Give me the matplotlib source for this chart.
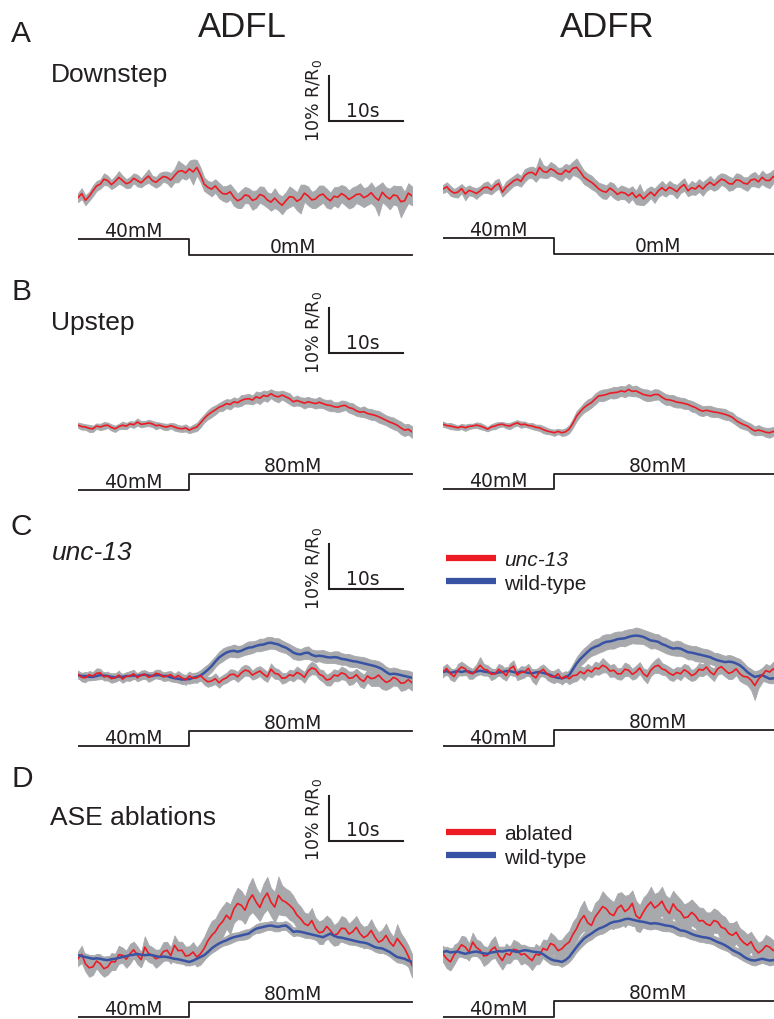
import matplotlib.pyplot as plt
import numpy as np
from matplotlib.lines import Line2D

plt.rcParams['font.family'] = ['Liberation Sans', 'DejaVu Sans']
plt.rcParams['mathtext.default'] = 'regular'

RED = '#ed1c24'
BLUE = '#3953a4'
GRAY = '#a7a9ac'
INK = '#231f20'

# sampling of the traces (s) and time of the salt step (s)
DT = 0.5
STEP_T = 15.0

# ---- A: downstep 40 -> 0 mM (% R/R0, mean and sem) ----
adfl_down = [0.3, 1.2, -0.3, 0.6, 1.8, 2.9, 3.3, 4.4, 4.1, 3.2,
             3.9, 4.8, 4.1, 3.4, 3.7, 4.6, 4.1, 3.6, 4.4, 5.1,
             4.1, 3.7, 4.4, 5.0, 4.8, 4.2, 5.2, 6.1, 6.3, 5.8,
             6.7, 6.0, 7.0, 5.4, 3.3, 2.6, 2.2, 2.9, 1.9, 1.2,
             1.1, 1.6, 0.4, -0.4, 0.0, 0.9, 0.7, -0.3, 0.0, 1.0,
             0.7, -0.2, -0.7, 0.2, -0.7, -1.4, -0.4, 0.5, 0.4, -0.5,
             0.0, 1.3, 0.7, -0.2, 0.0, 0.8, 1.1, 0.2, -0.4, 0.6,
             0.4, 1.2, 0.7, -0.1, 0.4, 1.0, 1.1, 0.3, 0.7, 1.4,
             0.4, -0.3, 1.5, 0.6, 0.0, 0.9, 0.7, -0.6, -0.4, 1.3,
             0.7]
adfl_down_sem = [1.0, 1.2, 1.1, 1.0, 1.2, 1.1, 1.0, 1.3, 1.1, 1.0,
                 1.2, 1.4, 1.1, 1.0, 1.2, 1.1, 1.3, 1.0, 1.2, 1.5,
                 1.1, 1.2, 1.4, 1.1, 1.3, 1.6, 1.5, 2.4, 1.6, 1.5,
                 1.8, 2.8, 1.7, 1.6, 1.5, 1.4, 1.6, 1.5, 1.7, 1.6,
                 1.8, 1.7, 1.9, 1.6, 2.0, 1.8, 1.7, 2.1, 1.9, 1.8,
                 2.0, 1.7, 1.9, 2.2, 1.8, 2.0, 1.9, 2.3, 1.8, 2.0,
                 3.2, 1.9, 2.1, 1.8, 2.0, 2.2, 1.9, 2.1, 1.8, 2.0,
                 2.3, 1.9, 2.1, 2.0, 2.2, 1.9, 2.4, 2.1, 2.0, 2.3,
                 2.1, 3.4, 2.2, 2.0, 2.3, 2.1, 2.2, 3.5, 2.0, 2.2,
                 2.1]
adfr_down = [0.0, 0.5, -0.4, -0.9, -0.7, 0.1, -1.1, -0.3, -0.6, -1.0,
             -0.4, 0.3, 0.4, -0.2, 0.7, 1.2, -0.7, 0.4, 1.1, 1.8,
             2.2, 1.7, 3.0, 3.6, 3.7, 3.1, 4.8, 3.9, 3.7, 4.5,
             4.1, 3.4, 3.3, 4.2, 3.7, 4.6, 4.8, 3.8, 2.6, 2.0,
             1.5, 0.8, 0.0, -0.5, -0.7, 0.2, -0.4, -1.2, -0.7, -0.9,
             -1.5, -0.8, -1.9, -1.2, -2.2, -1.4, -0.7, -1.5, -0.4, 0.3,
             -0.4, 0.4, 0.0, -0.6, 0.4, 1.0, -0.4, 0.3, 0.0, 0.8,
             0.0, 0.9, 1.5, 0.8, 1.5, 2.2, 1.9, 1.2, 1.1, 2.0,
             1.9, 1.3, 1.1, 2.0, 2.2, 1.6, 2.6, 1.9, 1.9, 2.8,
             2.2]
adfr_down_sem = [0.9, 1.0, 1.1, 0.9, 1.2, 1.0, 1.4, 1.1, 1.0, 1.2,
                 1.0, 1.1, 1.3, 1.0, 1.2, 1.1, 1.0, 1.3, 1.2, 1.1,
                 1.3, 1.2, 1.4, 1.2, 1.3, 1.5, 2.2, 1.4, 1.3, 1.5,
                 1.4, 1.3, 1.5, 1.4, 1.6, 1.5, 2.0, 1.6, 1.5, 1.4,
                 1.5, 1.3, 1.4, 1.6, 1.5, 1.4, 1.6, 1.3, 1.5, 1.4,
                 1.6, 1.4, 1.5, 2.3, 1.4, 1.5, 1.3, 1.6, 1.4, 1.5,
                 1.3, 1.4, 1.2, 1.5, 1.3, 1.4, 1.2, 1.5, 1.3, 1.4,
                 1.5, 1.3, 1.4, 1.2, 1.5, 1.3, 1.4, 1.6, 1.3, 1.5,
                 1.4, 1.3, 1.5, 1.4, 1.6, 1.3, 1.5, 1.4, 1.7, 1.5,
                 1.4]

# ---- B: upstep 40 -> 80 mM ----
adfl_up = [0.4, 0.1, 0.0, -0.3, -0.4, 0.2, 0.0, 0.3, 0.4, -0.1,
           -0.4, 0.1, 0.4, 0.2, 0.7, 0.5, 1.1, 0.6, 0.7, 0.9,
           0.7, 0.3, 0.4, 0.1, 0.0, 0.3, 0.0, -0.3, -0.4, -0.2,
           -0.7, -0.3, 0.0, 0.9, 1.9, 2.7, 3.3, 3.8, 4.4, 4.7,
           5.2, 5.0, 5.6, 5.4, 5.9, 6.2, 6.3, 6.0, 6.7, 6.4,
           7.0, 6.8, 7.4, 6.9, 6.7, 7.1, 6.7, 6.3, 5.6, 5.9,
           5.6, 5.3, 5.6, 5.4, 5.2, 5.5, 5.2, 4.9, 4.8, 4.5,
           4.4, 4.7, 4.8, 4.3, 4.1, 3.6, 3.3, 3.4, 3.0, 2.8,
           2.6, 2.3, 1.9, 1.5, 1.1, 0.8, 0.4, -0.2, -0.7, -0.5,
           -1.1]
adfl_up_sem = [0.6, 0.7, 0.6, 0.8, 0.7, 0.6, 0.7, 0.8, 0.6, 0.7,
               0.7, 0.6, 0.8, 0.7, 0.6, 0.7, 0.8, 0.7, 0.6, 0.7,
               0.7, 0.8, 0.6, 0.7, 0.7, 0.6, 0.8, 0.7, 0.7, 0.8,
               0.7, 0.8, 0.9, 1.0, 0.9, 1.0, 1.1, 1.0, 0.9, 1.1,
               1.0, 1.1, 1.0, 0.9, 1.2, 1.0, 1.1, 1.0, 1.2, 1.3,
               1.1, 1.2, 1.0, 1.1, 1.2, 1.0, 1.1, 1.2, 1.0, 1.1,
               1.0, 1.2, 1.1, 1.0, 1.1, 1.2, 1.0, 1.1, 1.3, 1.0,
               1.1, 1.2, 1.0, 1.1, 1.2, 1.1, 1.0, 1.2, 1.1, 1.2,
               1.1, 1.3, 1.2, 1.1, 1.2, 1.3, 1.2, 1.4, 1.3, 1.2,
               1.3]
adfr_up = [0.4, 0.1, 0.0, -0.2, -0.4, -0.1, -0.4, -0.1, 0.0, 0.2,
           0.0, -0.3, -0.7, -0.2, 0.0, 0.3, 0.4, 0.1, 0.0, 0.4,
           0.7, 0.3, 0.4, 0.1, 0.0, -0.3, -0.4, -0.8, -1.1, -1.3,
           -1.5, -1.2, -1.5, -1.3, -0.7, 0.6, 2.2, 3.2, 4.1, 4.7,
           5.2, 6.0, 6.7, 6.8, 7.0, 7.3, 7.4, 7.5, 7.8, 7.6,
           8.1, 7.7, 7.8, 7.4, 7.0, 6.8, 6.7, 7.0, 7.0, 6.4,
           5.9, 5.8, 5.6, 5.3, 5.2, 5.0, 4.8, 4.4, 4.1, 3.6,
           3.3, 3.5, 3.3, 3.1, 3.0, 2.8, 2.6, 2.3, 1.9, 1.2,
           0.7, 0.3, 0.0, -0.6, -1.1, -0.9, -1.1, -1.4, -1.5, -1.2,
           -1.5]
adfr_up_sem = [0.6, 0.5, 0.7, 0.6, 0.5, 0.6, 0.7, 0.6, 0.5, 0.6,
               0.7, 0.6, 0.5, 0.6, 0.7, 0.6, 0.5, 0.6, 0.7, 0.6,
               0.6, 0.7, 0.6, 0.5, 0.7, 0.6, 0.7, 0.8, 0.7, 0.6,
               0.7, 0.6, 0.7, 0.8, 0.9, 1.0, 1.1, 1.0, 1.1, 1.2,
               1.1, 1.2, 1.1, 1.3, 1.2, 1.1, 1.3, 1.2, 1.1, 1.2,
               1.3, 1.1, 1.2, 1.1, 1.2, 1.3, 1.1, 1.2, 1.1, 1.2,
               1.2, 1.1, 1.3, 1.2, 1.1, 1.2, 1.0, 1.2, 1.1, 1.2,
               1.1, 1.0, 1.2, 1.1, 1.0, 1.1, 1.2, 1.0, 1.1, 1.0,
               1.1, 1.0, 0.9, 1.1, 1.0, 1.1, 0.9, 1.0, 1.1, 1.0,
               1.0]

# ---- C: unc-13 vs wild-type, upstep ----
adfl_unc13 = [0.4, -0.3, -0.4, 0.3, 0.0, 0.6, 0.7, -0.2, 0.0, -0.6,
              -0.4, 0.2, -0.7, -0.1, 0.0, 0.5, -0.4, 0.2, 0.4, -0.3,
              0.0, 0.6, 0.4, -0.2, 0.0, 0.3, -0.4, 0.1, -0.4, -0.9,
              0.0, -0.5, -0.4, 0.1, -0.7, -1.3, -1.1, -0.6, -1.5, -0.8,
              -0.4, 0.3, 0.4, -0.2, 0.7, 1.3, 1.1, 0.2, 0.7, 1.1,
              0.4, -0.2, 1.5, 0.6, 0.4, -0.5, -0.4, 0.3, 0.0, 0.8,
              0.4, -0.3, 1.1, 1.8, 1.5, 0.4, 0.0, -0.9, -0.7, 0.2,
              0.0, 0.7, 0.4, -0.5, -0.4, 0.3, -0.7, -1.2, 0.0, -0.6,
              -0.4, 0.2, -0.7, -1.4, -1.1, -0.3, -0.7, -1.6, -1.5, -0.8,
              -1.5]
adfl_unc13_sem = [0.8, 0.9, 1.0, 0.8, 0.9, 1.1, 0.9, 0.8, 1.0, 0.9,
                  0.9, 1.0, 0.8, 0.9, 1.1, 0.9, 0.8, 1.0, 0.9, 1.0,
                  0.9, 0.8, 1.0, 0.9, 1.0, 0.8, 0.9, 1.0, 0.9, 1.1,
                  1.0, 0.9, 1.1, 1.0, 1.2, 1.1, 1.0, 1.2, 1.1, 1.0,
                  1.1, 1.2, 1.0, 1.1, 1.3, 1.2, 1.1, 1.0, 1.2, 1.1,
                  1.2, 1.1, 1.3, 1.2, 1.1, 1.2, 1.0, 1.1, 1.2, 1.3,
                  1.1, 1.2, 1.3, 1.4, 1.2, 1.1, 1.3, 1.2, 1.4, 1.3,
                  1.2, 1.4, 1.3, 1.5, 1.4, 1.3, 1.6, 1.5, 1.4, 1.6,
                  1.8, 2.4, 2.2, 1.7, 1.6, 1.8, 1.5, 1.7, 1.6, 1.8,
                  1.7]
adfl_unc13_wt = [0.2, 0.0, 0.0, -0.2, -0.2, 0.0, 0.2, 0.1, 0.0, -0.2,
                 -0.3, -0.1, -0.2, 0.0, 0.0, 0.1, 0.0, 0.2, 0.3, 0.1,
                 0.0, 0.2, 0.2, 0.0, 0.0, -0.3, -0.5, -0.6, -0.8, -0.7,
                 -0.7, -0.4, -0.2, 0.1, 0.7, 1.4, 2.2, 3.2, 4.1, 4.7,
                 5.2, 5.5, 5.6, 5.4, 5.6, 6.0, 6.3, 6.4, 6.7, 6.9,
                 7.0, 7.3, 7.4, 7.2, 7.0, 6.6, 6.3, 5.8, 5.2, 4.9,
                 4.8, 5.1, 5.2, 4.7, 4.4, 4.5, 4.4, 4.2, 4.1, 4.2,
                 4.1, 3.8, 3.7, 3.5, 3.3, 3.2, 3.0, 2.8, 2.6, 2.4,
                 2.2, 1.9, 1.5, 0.9, 0.4, 0.5, 0.4, 0.2, 0.0, -0.2,
                 -0.4]
adfl_unc13_wt_sem = [0.8, 0.7, 0.9, 0.8, 0.7, 0.8, 0.9, 0.8, 0.7, 0.8,
                     0.9, 0.8, 0.7, 0.8, 0.9, 0.8, 0.7, 0.8, 0.9, 0.8,
                     0.8, 0.7, 0.9, 0.8, 0.8, 0.9, 0.8, 0.9, 1.0, 0.9,
                     1.0, 1.1, 1.0, 1.2, 1.3, 1.2, 1.3, 1.2, 1.3, 1.4,
                     1.3, 1.2, 1.4, 1.3, 1.2, 1.3, 1.4, 1.3, 1.2, 1.4,
                     1.3, 1.4, 1.3, 1.2, 1.4, 1.3, 1.2, 1.3, 1.4, 1.3,
                     1.2, 1.3, 1.4, 1.2, 1.3, 1.2, 1.4, 1.3, 1.2, 1.3,
                     1.4, 1.3, 1.2, 1.4, 1.3, 1.2, 1.3, 1.4, 1.3, 1.2,
                     1.3, 1.4, 1.3, 1.2, 1.3, 1.4, 1.3, 1.2, 1.3, 1.4,
                     1.3]
adfr_unc13 = [0.0, 0.8, -0.4, -1.0, 0.4, 1.1, 0.7, -0.2, -0.4, 0.5,
              1.5, 0.6, 0.4, -0.5, -0.4, 0.6, 0.0, -0.8, 0.7, 1.3,
              -0.7, -0.1, 0.0, 0.8, -0.7, -1.3, 0.0, 0.6, -0.4, -1.0,
              -1.1, -0.4, -1.5, -0.9, -1.5, -0.8, -0.7, 0.1, -0.4, 0.5,
              0.0, 0.9, 0.7, 1.5, 1.1, 0.2, 0.4, -0.4, -0.4, 0.6,
              0.4, -0.5, 0.0, 0.9, -0.4, -1.0, 0.4, 1.2, 1.5, 0.7,
              0.4, -0.3, -0.7, -0.1, -0.4, 0.5, 0.0, -0.8, -0.4, 0.6,
              0.4, 1.1, 0.0, -0.6, 0.7, 1.2, 0.4, -0.3, 0.0, 0.7,
              -0.4, -1.0, -1.1, -1.8, -3.0, -1.6, -0.7, 0.3, 0.0, 0.7,
              0.0]
adfr_unc13_sem = [1.2, 1.0, 1.3, 1.1, 1.4, 1.2, 1.0, 1.3, 1.1, 1.2,
                  1.8, 1.2, 1.1, 1.3, 1.0, 1.2, 1.4, 1.1, 1.2, 1.3,
                  1.1, 1.4, 1.2, 1.0, 1.3, 1.5, 1.2, 1.1, 1.3, 1.2,
                  1.4, 1.2, 1.3, 1.1, 1.2, 1.4, 1.3, 1.2, 1.4, 1.3,
                  1.2, 1.4, 1.3, 1.6, 1.2, 1.3, 1.4, 1.2, 1.3, 1.5,
                  1.3, 1.2, 1.4, 1.3, 1.2, 1.5, 1.3, 1.4, 1.7, 1.3,
                  1.2, 1.4, 1.3, 1.2, 1.4, 1.3, 1.5, 1.2, 1.3, 1.4,
                  1.3, 1.5, 1.2, 1.4, 1.3, 1.5, 1.4, 1.3, 1.5, 1.4,
                  1.6, 1.5, 1.8, 2.2, 3.2, 2.0, 1.6, 1.5, 1.4, 1.6,
                  1.5]
adfr_unc13_wt = [0.0, 0.2, -0.2, 0.0, 0.2, 0.0, 0.2, 0.1, -0.2, 0.1,
                 0.3, 0.1, 0.0, -0.2, -0.3, -0.1, 0.0, 0.2, 0.2, 0.0,
                 -0.2, 0.1, 0.0, -0.2, -0.3, -0.1, 0.0, -0.2, -0.4, -0.7,
                 -1.1, -1.3, -1.4, -1.2, -0.7, 0.6, 1.9, 2.9, 3.7, 4.5,
                 5.2, 5.6, 5.9, 6.4, 6.7, 6.8, 7.0, 7.3, 7.4, 7.5,
                 7.8, 8.0, 8.1, 8.0, 7.8, 7.4, 7.0, 6.9, 6.7, 6.2,
                 5.9, 5.5, 5.2, 5.3, 5.2, 4.8, 4.4, 4.3, 4.1, 3.9,
                 3.7, 3.5, 3.3, 2.9, 2.6, 2.4, 2.2, 2.3, 2.2, 1.9,
                 1.5, 0.8, 0.0, -0.6, -1.1, -0.9, -0.7, -1.1, -1.5, -1.4,
                 -1.5]
adfr_unc13_wt_sem = [0.8, 0.9, 0.8, 0.7, 0.9, 0.8, 0.9, 0.8, 0.7, 0.9,
                     0.8, 0.9, 0.8, 0.9, 0.8, 0.7, 0.8, 0.9, 0.8, 0.9,
                     0.8, 0.9, 0.8, 0.7, 0.9, 0.8, 0.9, 0.8, 0.9, 1.0,
                     0.9, 1.0, 1.1, 1.0, 1.1, 1.2, 1.4, 1.5, 1.6, 1.5,
                     1.6, 1.7, 1.6, 1.8, 1.7, 1.6, 1.8, 1.7, 1.6, 1.8,
                     1.7, 1.6, 1.8, 1.7, 1.6, 1.7, 1.8, 1.6, 1.7, 1.6,
                     1.7, 1.6, 1.5, 1.7, 1.6, 1.5, 1.6, 1.5, 1.7, 1.6,
                     1.5, 1.6, 1.5, 1.4, 1.6, 1.5, 1.4, 1.5, 1.4, 1.3,
                     1.4, 1.3, 1.2, 1.3, 1.2, 1.1, 1.2, 1.1, 1.0, 1.1,
                     1.0]

# ---- D: ASE ablated vs wild-type, upstep ----
adfl_abl = [-0.4, 0.6, -1.5, -2.4, -2.2, -0.9, -1.5, -2.6, -2.2, -1.0,
            -1.1, 0.5, 0.4, -0.5, 0.7, 1.6, 0.4, -0.6, 2.2, 0.8,
            0.4, -0.4, 0.0, 1.2, 1.5, 0.3, 2.6, 1.4, 1.5, 0.2,
            0.4, 1.1, 0.0, 0.7, 1.9, 3.6, 4.8, 5.6, 7.0, 7.9,
            9.3, 8.4, 10.7, 11.9, 11.5, 10.4, 12.6, 13.8, 12.2, 11.0,
            13.0, 14.2, 12.2, 11.1, 13.7, 12.6, 12.2, 11.5, 10.7, 9.3,
            8.5, 7.4, 7.0, 8.1, 6.3, 5.4, 5.6, 6.8, 5.9, 4.8,
            5.2, 6.4, 6.3, 5.1, 5.6, 6.6, 5.2, 4.3, 4.8, 5.9,
            4.4, 3.3, 3.7, 4.8, 3.3, 2.4, 4.1, 3.0, 1.9, 0.2,
            -1.9]
adfl_abl_sem = [1.6, 1.9, 1.7, 2.0, 1.8, 1.6, 2.1, 1.8, 1.7, 1.9,
                1.8, 2.0, 1.7, 1.9, 2.2, 1.8, 2.0, 1.7, 2.4, 1.9,
                1.8, 2.0, 1.7, 2.1, 1.9, 1.8, 2.2, 2.0, 1.9, 2.1,
                2.0, 2.2, 2.1, 2.4, 2.6, 2.8, 3.2, 2.9, 3.1, 3.4,
                3.0, 3.3, 3.1, 3.5, 3.2, 3.0, 3.4, 3.8, 3.2, 3.0,
                3.3, 3.6, 3.1, 3.4, 4.2, 3.3, 3.0, 3.2, 2.9, 2.8,
                2.7, 2.5, 2.6, 2.8, 2.4, 2.5, 2.7, 2.4, 2.6, 2.3,
                2.5, 2.7, 2.4, 2.3, 2.6, 2.5, 2.3, 2.4, 2.2, 2.5,
                2.3, 2.2, 2.4, 2.6, 2.3, 2.1, 3.2, 2.3, 2.2, 2.4,
                2.6]
adfl_abl_wt = [0.4, 0.2, 0.0, -0.2, -0.4, -0.3, -0.4, -0.6, -0.7, -0.5,
               -0.4, -0.2, 0.0, 0.2, 0.4, 0.5, 0.7, 0.5, 0.4, 0.5,
               0.4, 0.2, 0.0, 0.1, 0.0, -0.2, -0.4, -0.5, -0.7, -0.9,
               -1.1, -0.8, -0.4, 0.0, 0.4, 1.1, 1.9, 2.5, 3.0, 3.4,
               3.7, 4.1, 4.4, 4.6, 4.8, 5.0, 5.2, 5.8, 6.3, 6.5,
               6.7, 6.9, 7.0, 6.8, 6.7, 6.9, 7.0, 6.4, 5.6, 5.7,
               5.6, 5.4, 5.2, 5.0, 4.8, 4.6, 4.4, 4.8, 5.2, 4.7,
               4.4, 4.3, 4.1, 3.9, 3.7, 3.5, 3.3, 3.2, 3.0, 2.6,
               2.2, 2.0, 1.9, 1.5, 1.1, 0.5, 0.0, -0.2, -0.4, -0.8,
               -1.1]
adfl_abl_wt_sem = [0.8, 0.9, 0.8, 0.7, 0.8, 0.9, 0.8, 0.7, 0.9, 0.8,
                   0.8, 0.9, 0.8, 0.7, 0.8, 0.9, 0.8, 0.7, 0.8, 0.9,
                   0.8, 0.7, 0.8, 0.9, 0.8, 0.7, 0.8, 0.9, 0.8, 0.9,
                   0.8, 0.9, 0.8, 0.9, 1.0, 0.9, 1.0, 1.1, 1.0, 0.9,
                   1.0, 1.1, 1.0, 0.9, 1.0, 1.1, 1.0, 0.9, 1.0, 1.1,
                   1.0, 0.9, 1.0, 1.1, 1.0, 0.9, 1.0, 1.1, 1.0, 0.9,
                   1.0, 1.1, 1.0, 0.9, 1.0, 1.1, 1.0, 0.9, 1.0, 1.1,
                   1.0, 0.9, 1.0, 1.1, 1.0, 0.9, 1.0, 1.1, 1.0, 0.9,
                   1.0, 1.1, 1.0, 0.9, 1.0, 1.1, 1.2, 1.1, 1.2, 1.3,
                   1.2]
adfr_abl = [-0.4, -1.5, -2.2, -0.6, 0.4, 1.6, 1.1, 0.0, 2.2, 1.0,
            0.4, -0.9, -0.7, 0.5, 1.1, -0.8, -1.9, -0.3, -0.7, 0.6,
            0.4, -0.6, -0.4, -1.2, -1.9, -0.5, -0.7, 0.8, 0.4, 1.9,
            1.5, 0.3, 0.7, 1.6, 2.2, 3.9, 5.2, 7.0, 8.1, 6.5,
            5.9, 7.8, 8.9, 10.1, 9.6, 8.5, 8.1, 9.7, 10.4, 9.0,
            9.6, 10.8, 8.1, 7.4, 8.9, 10.2, 11.1, 9.8, 10.4, 11.3,
            9.6, 8.6, 10.7, 9.5, 8.9, 7.6, 7.8, 8.8, 8.1, 6.9,
            7.0, 6.2, 5.9, 7.0, 6.7, 5.5, 5.2, 4.1, 3.7, 4.4,
            3.0, 2.1, 1.5, 2.3, 0.7, -0.2, 0.4, 1.4, 1.1, 0.3,
            1.0]
adfr_abl_sem = [1.8, 2.1, 1.9, 2.2, 1.7, 2.0, 2.3, 1.9, 2.1, 1.8,
                2.0, 2.2, 1.8, 2.1, 2.4, 1.9, 2.0, 2.2, 1.8, 2.1,
                1.9, 2.2, 2.0, 1.8, 2.1, 2.3, 1.9, 2.0, 2.2, 2.4,
                2.1, 2.3, 2.0, 2.2, 2.5, 2.8, 2.6, 3.0, 3.3, 2.8,
                2.9, 3.1, 2.8, 3.4, 2.9, 3.2, 3.0, 3.3, 2.9, 3.5,
                3.1, 2.9, 3.3, 3.0, 3.2, 2.8, 3.4, 3.1, 2.9, 3.2,
                3.0, 3.3, 2.9, 3.1, 2.8, 3.0, 3.2, 2.9, 2.7, 3.0,
                2.8, 2.6, 2.9, 2.7, 2.5, 2.8, 2.6, 2.4, 2.7, 2.5,
                2.3, 2.6, 2.4, 2.2, 2.5, 2.3, 2.1, 2.4, 2.2, 2.3,
                2.2]
adfr_abl_wt = [0.0, 0.2, -0.1, 0.0, 0.1, -0.2, -0.4, -0.2, 0.0, 0.1,
               -0.1, -0.3, -0.4, -0.1, 0.0, 0.2, 0.1, 0.3, 0.4, 0.2,
               0.0, 0.2, 0.4, 0.3, 0.1, 0.0, -0.1, -0.5, -1.1, -1.6,
               -1.9, -2.0, -2.2, -1.8, -1.1, 0.0, 1.1, 2.1, 3.0, 3.6,
               4.1, 4.7, 5.2, 5.5, 5.9, 6.4, 6.7, 6.8, 7.0, 7.3,
               7.4, 7.2, 7.0, 6.8, 6.7, 6.5, 6.3, 6.4, 6.3, 6.1,
               5.9, 5.8, 5.6, 5.2, 4.8, 4.7, 4.4, 4.0, 3.7, 3.5,
               3.3, 3.2, 3.0, 2.6, 2.2, 1.9, 1.5, 1.0, 0.4, 0.0,
               -0.4, -1.0, -1.5, -1.8, -1.9, -1.7, -1.5, -1.7, -1.9, -1.8,
               -1.9]
adfr_abl_wt_sem = [0.9, 1.0, 0.9, 1.1, 1.0, 0.9, 1.0, 1.1, 0.9, 1.0,
                   1.0, 0.9, 1.1, 1.0, 0.9, 1.0, 1.1, 0.9, 1.0, 1.1,
                   0.9, 1.0, 1.1, 0.9, 1.0, 1.1, 1.0, 0.9, 1.0, 1.1,
                   1.0, 0.9, 1.1, 1.0, 1.1, 1.2, 1.1, 1.2, 1.3, 1.2,
                   1.3, 1.2, 1.3, 1.4, 1.3, 1.2, 1.3, 1.4, 1.3, 1.2,
                   1.3, 1.4, 1.3, 1.2, 1.3, 1.4, 1.3, 1.2, 1.3, 1.4,
                   1.3, 1.2, 1.3, 1.4, 1.3, 1.2, 1.3, 1.2, 1.1, 1.2,
                   1.1, 1.2, 1.1, 1.0, 1.1, 1.2, 1.1, 1.0, 1.1, 1.0,
                   1.1, 1.0, 0.9, 1.0, 1.1, 1.0, 0.9, 1.0, 1.1, 1.0,
                   1.0]

# stimulus concentrations (mM) before / after the step
conc_down = [40, 0]
conc_up = [40, 80]

# ---------------- layout (pixels) ----------------
W, H = 774, 1020
T_END = 45.0
PANEL_W = 334
PX_PER_PCT = 4.5
PX_PER_MM = 0.39
COL_X = [78, 443]
WIDE = ['DejaVu Sans']   # the small labels in the original are set wide

fig = plt.figure(figsize=(W / 100, H / 100), dpi=100)


def px_axes(left, top, width, height):
    ax = fig.add_axes([left / W, 1 - (top + height) / H, width / W, height / H])
    ax.set_axis_off()
    return ax


def ftext(x, y, s, **kw):
    kw.setdefault('color', INK)
    return fig.text(x / W, 1 - y / H, s, **kw)


def trace_axes(x0, y0):
    ax = px_axes(x0, y0 - 170, PANEL_W, 230)
    ax.set_xlim(0, T_END)
    ax.set_ylim(-60 / PX_PER_PCT, 170 / PX_PER_PCT)
    return ax


def band(ax, vals, sem):
    vals = np.asarray(vals)
    sem = np.asarray(sem)
    t = np.arange(len(vals)) * DT
    ax.fill_between(t, vals - sem, vals + sem, color=GRAY, lw=0.6, edgecolor=GRAY)


def line(ax, vals, color, lw):
    t = np.arange(len(vals)) * DT
    ax.plot(t, vals, color=color, lw=lw)


def stimulus(x0, y_zero, conc, label_t=(7.4, 29.0)):
    ax = px_axes(x0, y_zero - 60, PANEL_W + 2, 70)
    ax.set_xlim(0, T_END * (PANEL_W + 2) / PANEL_W)
    ax.set_ylim(-10 / PX_PER_MM, 60 / PX_PER_MM)
    ax.plot([0, STEP_T, T_END], [conc[0], conc[1], conc[1]],
            drawstyle='steps-post', color=INK, lw=1.3)
    for tt, c in zip(label_t, conc):
        ax.text(tt, c + 8.0, f'{c}mM', ha='center', va='baseline',
                fontsize=13.5, color=INK, family=WIDE)


def scale_bar(ax, v0):
    sb_t = 33.8
    ax.plot([sb_t, sb_t, sb_t + 10], [v0 + 10, v0, v0], color=INK, lw=1.5,
            solid_joinstyle='miter', clip_on=False)
    ax.text(sb_t + 4.6, v0 + 1.2, '10s', ha='center', va='baseline',
            fontsize=13.5, color=INK, family=WIDE)
    ax.text(sb_t - 2.0, v0 + 4.9, '10% R/R$_0$', rotation=90, ha='center',
            va='center', fontsize=12.5, color=INK, family=WIDE)


def legend(x, top, labels, italic_first=False):
    handles = [Line2D([], [], color=RED, lw=4.5, solid_capstyle='butt'),
               Line2D([], [], color=BLUE, lw=4.5, solid_capstyle='butt')]
    leg = fig.legend(handles, labels, loc='upper left',
                     bbox_to_anchor=(x / W, 1 - top / H), frameon=False,
                     fontsize=15, handlelength=2.4, handletextpad=0.38,
                     labelspacing=0.22, borderpad=0, borderaxespad=0)
    for txt in leg.get_texts():
        txt.set_color(INK)
    if italic_first:
        leg.get_texts()[0].set_style('italic')


# column headings
ftext(242, 37, 'ADFL', ha='center', va='baseline', fontsize=25)
ftext(607, 37, 'ADFR', ha='center', va='baseline', fontsize=25)

# ---- A ----
ftext(11, 42, 'A', fontsize=21.5, va='baseline')
ftext(51, 82, 'Downstep', fontsize=19, va='baseline')
ax = trace_axes(COL_X[0], 200)
band(ax, adfl_down, adfl_down_sem)
line(ax, adfl_down, RED, 1.2)
scale_bar(ax, 17.3)
ax = trace_axes(COL_X[1], 190)
band(ax, adfr_down, adfr_down_sem)
line(ax, adfr_down, RED, 1.2)
stimulus(COL_X[0], 256, conc_down)
stimulus(COL_X[1], 255, conc_down)

# ---- B ----
ftext(12, 300, 'B', fontsize=21.5, va='baseline')
ftext(51, 330, 'Upstep', fontsize=19, va='baseline')
ax = trace_axes(COL_X[0], 428)
band(ax, adfl_up, adfl_up_sem)
line(ax, adfl_up, RED, 1.2)
scale_bar(ax, 16.4)
ax = trace_axes(COL_X[1], 427)
band(ax, adfr_up, adfr_up_sem)
line(ax, adfr_up, RED, 1.2)
stimulus(COL_X[0], 506.5, conc_up)
stimulus(COL_X[1], 506, conc_up)

# ---- C ----
ftext(10, 535, 'C', fontsize=21.5, va='baseline')
ftext(52, 560, 'unc-13', fontsize=19, va='baseline', style='italic')
ax = trace_axes(COL_X[0], 677)
band(ax, adfl_unc13_wt, adfl_unc13_wt_sem)
band(ax, adfl_unc13, adfl_unc13_sem)
line(ax, adfl_unc13_wt, BLUE, 1.8)
line(ax, adfl_unc13, RED, 1.2)
scale_bar(ax, 19.3)
ax = trace_axes(COL_X[1], 673)
band(ax, adfr_unc13_wt, adfr_unc13_wt_sem)
band(ax, adfr_unc13, adfr_unc13_sem)
line(ax, adfr_unc13_wt, BLUE, 1.8)
line(ax, adfr_unc13, RED, 1.2)
stimulus(COL_X[0], 763, conc_up)
stimulus(COL_X[1], 762.5, conc_up)
legend(446, 551, ['unc-13', 'wild-type'], italic_first=True)

# ---- D ----
ftext(11, 787, 'D', fontsize=21.5, va='baseline')
ftext(50, 825, 'ASE ablations', fontsize=19, va='baseline')
ax = trace_axes(COL_X[0], 958)
band(ax, adfl_abl, adfl_abl_sem)
band(ax, adfl_abl_wt, adfl_abl_wt_sem)
line(ax, adfl_abl, RED, 1.2)
line(ax, adfl_abl_wt, BLUE, 1.8)
scale_bar(ax, 25.8)
ax = trace_axes(COL_X[1], 953)
band(ax, adfr_abl, adfr_abl_sem)
band(ax, adfr_abl_wt, adfr_abl_wt_sem)
line(ax, adfr_abl, RED, 1.2)
line(ax, adfr_abl_wt, BLUE, 1.8)
stimulus(COL_X[0], 1034, conc_up)
stimulus(COL_X[1], 1033.5, conc_up)
legend(446, 825, ['ablated', 'wild-type'])

fig.savefig('out.png', dpi=100)
